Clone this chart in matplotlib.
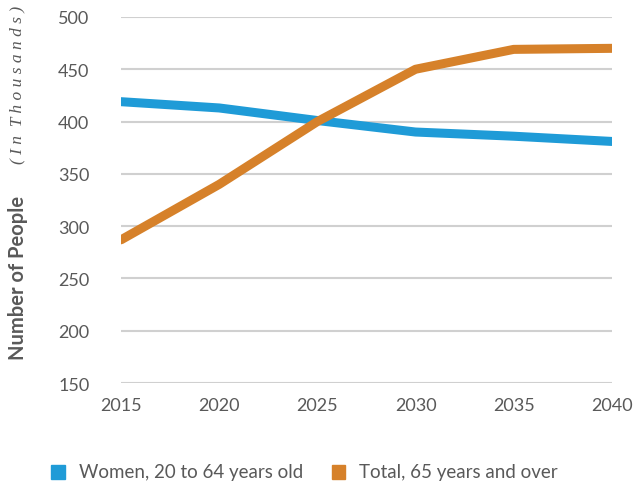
import matplotlib.pyplot as plt
from matplotlib.patches import Rectangle

years = [2015, 2020, 2025, 2030, 2035, 2040]
women_20_64 = [419, 413, 401, 390, 386, 381]
total_65_over = [287, 340, 400, 450, 469, 470]
y_ticks = [150, 200, 250, 300, 350, 400, 450, 500]

blue = '#1f9bd7'
orange = '#d6812a'
grey = '#595959'

plt.rcParams['font.family'] = ['Lato', 'DejaVu Sans']

fig = plt.figure(figsize=(6.34, 4.85), dpi=100)
ax = fig.add_axes([0.191, 0.208, 0.774, 0.755])

ax.plot(years, women_20_64, color=blue, lw=6.5, solid_capstyle='round', solid_joinstyle='round', zorder=3)
ax.plot(years, total_65_over, color=orange, lw=6.5, solid_capstyle='round', solid_joinstyle='round', zorder=3)

ax.set_xlim(2015, 2040)
ax.set_ylim(150, 500)
ax.set_xticks(years)
ax.set_yticks(y_ticks)
ax.grid(axis='y', color='#d0d0d0', lw=1.5, zorder=0)
for s in ax.spines.values():
    s.set_visible(False)
ax.tick_params(length=0, labelsize=13, labelcolor=grey)
ax.tick_params(axis='y', pad=34)
ax.tick_params(axis='x', pad=10)
for lab in ax.get_yticklabels():
    lab.set_horizontalalignment('center')

# y axis title, two parts
fig.text(0.028, 0.258, 'Number of People', rotation=90, fontsize=14.5, fontweight='bold',
         color=grey, ha='center', va='bottom')
fig.text(0.028, 0.662, '( I n  T h o u s a n d s )', rotation=90, fontsize=12.5,
         fontstyle='italic', family=['Liberation Serif'], color=grey, ha='center', va='bottom')

# legend
fig.patches.append(Rectangle((0.081, 0.011), 0.021, 0.028, transform=fig.transFigure,
                             color=blue, figure=fig))
fig.text(0.125, 0.025, 'Women, 20 to 64 years old', fontsize=13.5, color=grey, va='center')
fig.patches.append(Rectangle((0.523, 0.011), 0.021, 0.028, transform=fig.transFigure,
                             color=orange, figure=fig))
fig.text(0.567, 0.025, 'Total, 65 years and over', fontsize=13.5, color=grey, va='center')

fig.savefig('out.png', dpi=100)
